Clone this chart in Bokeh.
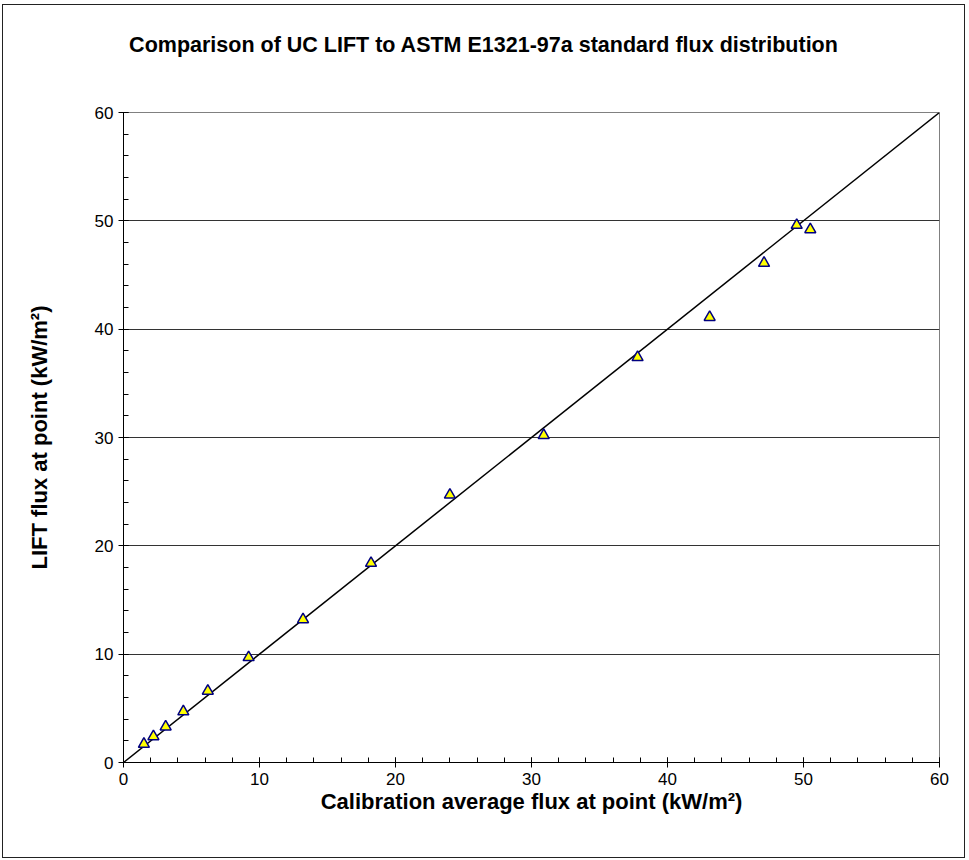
from bokeh.plotting import figure
from bokeh.models import Range1d, SingleIntervalTicker, Div
from bokeh.layouts import column
from bokeh.embed import file_html
from bokeh.resources import INLINE

# data
calib_flux = [1.5, 2.2, 3.1, 4.4, 6.2, 9.2, 13.2, 18.2, 24.0, 30.9, 37.8, 43.1, 47.1, 49.5, 50.5]
lift_flux = [1.7, 2.4, 3.3, 4.7, 6.6, 9.7, 13.2, 18.4, 24.7, 30.2, 37.4, 41.1, 46.1, 49.6, 49.2]
ref_x = [0, 60]
ref_y = [0, 60]
title_text = "Comparison of UC LIFT to ASTM E1321-97a standard flux distribution"

FONT = "Liberation Sans"

title_div = Div(text=title_text, width=961, height=80, margin=(0, 0, 0, 0),
                styles={"text-align": "center", "font-family": FONT, "font-size": "21.5px",
                        "font-weight": "bold", "color": "black", "line-height": "80px",
                        "width": "961px", "white-space": "nowrap"})

p = figure(width=961, height=772, output_backend="svg", toolbar_location=None,
           x_range=Range1d(0, 60), y_range=Range1d(0, 60),
           min_border_left=120, min_border_top=27, min_border_right=25, min_border_bottom=95)
p.margin = (0, 0, 0, 0)

p.outline_line_color = "#808080"
p.outline_line_width = 1
p.background_fill_color = "white"
p.border_fill_color = "white"

p.xgrid.grid_line_color = None
p.ygrid.grid_line_color = "#333333"
p.ygrid.grid_line_width = 1

for ax in (p.xaxis[0], p.yaxis[0]):
    ax.ticker = SingleIntervalTicker(interval=10, num_minor_ticks=5)
    ax.axis_line_color = "black"
    ax.major_tick_line_color = "black"
    ax.minor_tick_line_color = "black"
    ax.major_tick_in = 5
    ax.major_tick_out = 5
    ax.minor_tick_in = 5
    ax.minor_tick_out = 0
    ax.major_label_text_font = FONT
    ax.major_label_text_font_size = "17px"
    ax.major_label_text_color = "black"
    ax.axis_label_text_font = FONT
    ax.axis_label_text_font_size = "22px"
    ax.axis_label_text_font_style = "bold"
    ax.axis_label_text_color = "black"

p.xaxis.axis_label = "Calibration average flux at point (kW/m²)"
p.yaxis.axis_label = "LIFT flux at point (kW/m²)"
p.xaxis.major_label_standoff = 5
p.yaxis.major_label_standoff = 5
p.xaxis.axis_label_standoff = 1
p.yaxis.axis_label_standoff = 40

p.line(ref_x, ref_y, line_color="black", line_width=1.5)
p.scatter(calib_flux, lift_flux, marker="triangle", size=11,
          fill_color="#FFFF00", line_color="#000080", line_width=1.5)

layout = column(title_div, p, spacing=0, margin=(4, 0, 0, 2),
                styles={"border": "1px solid #222", "background-color": "white"})

open("out.html", "w").write(file_html(layout, INLINE))
